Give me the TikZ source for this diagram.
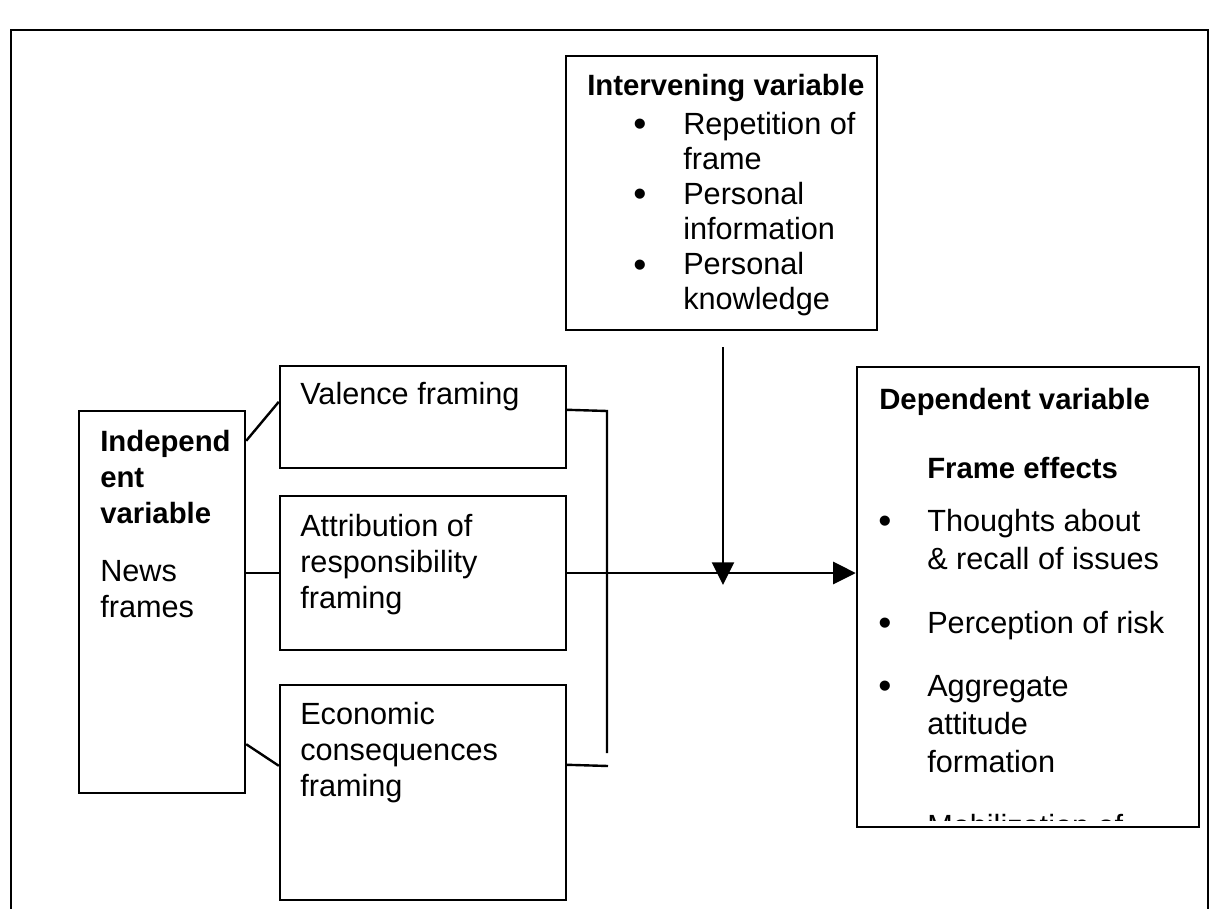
\documentclass[tikz,border=0pt]{standalone}
\usepackage{fontspec}
\setmainfont{Liberation Sans}
\usetikzlibrary{arrows.meta, positioning, fit, calc}

\tikzset{
    box/.style={draw, line width=1.8pt, inner sep=0pt},
    txt/.style={anchor=base west, inner sep=0pt, font=\fontsize{23}{26}\selectfont},
    head/.style={anchor=base west, inner sep=0pt, font=\fontsize{22}{26}\selectfont\bfseries},
    bul/.style={anchor=base, inner sep=0pt, yshift=-1.5pt, font=\fontsize{28}{30}\selectfont},
    link/.style={line width=1.8pt},
    flow/.style={line width=1.8pt, -{Triangle[length=17pt, width=16.5pt]}}
}

\begin{document}
\begin{tikzpicture}[x=0.75pt, y=-0.75pt]
    \useasboundingbox (0,0) rectangle (1210,909);

    % Outer frame
    \draw[line width=1.5pt] (11,909) -- (11,30) -- (1208,30) -- (1208,909);

    % Boxes
    \node[box, fit={(79,411) (245,793)}] (indep) {};
    \node[box, fit={(280,366) (566,468)}] (val) {};
    \node[box, fit={(280,496) (566,650)}] (attr) {};
    \node[box, fit={(280,685) (566,900)}] (econ) {};
    \node[box, fit={(566,56) (877,330)}] (interv) {};
    \node[box, fit={(857,367) (1199,827)}] (dep) {};

    % Independent variable
    \foreach \t [count=\i] in {Independ, ent, variable}
        \node[head] (indep\i) at (100,415+36*\i) {\t};
    \node[txt] (news1) at (100,581) {News};
    \node[txt] (news2) at (100,617) {frames};

    % Framing boxes
    \node[txt] (valtxt) at (300,404) {Valence framing};
    \foreach \t [count=\i] in {Attribution of, responsibility, framing}
        \node[txt] (attr\i) at (300,500+36*\i) {\t};
    \foreach \t [count=\i] in {Economic, consequences, framing}
        \node[txt] (econ\i) at (300,688+36*\i) {\t};

    % Intervening variable
    \node[head] (ivtitle) at (587,96) {Intervening variable};
    \foreach \t [count=\i] in {Repetition of, frame, Personal, information, Personal, knowledge}
        \node[txt] (iv\i) at (683,100+35*\i) {\t};
    \foreach \y [count=\i] in {135,205,275}
        \node[bul] (ivb\i) at (640,\y) {\textbullet};

    % Dependent variable
    \node[head] (deptitle) at (879,409) {Dependent variable};
    \node[head] (depsub) at (927,478) {Frame effects};
    \node[txt] (dep1) at (927,531) {Thoughts about};
    \node[txt] (dep2) at (927,569) {\& recall of issues};
    \node[txt] (dep3) at (927,633) {Perception of risk};
    \node[txt] (dep4) at (927,696) {Aggregate};
    \node[txt] (dep5) at (927,734) {attitude};
    \node[txt] (dep6) at (927,772) {formation};
    \foreach \y [count=\i] in {531,633,696}
        \node[bul] (depb\i) at (885,\y) {\textbullet};
    \begin{scope}
        \clip (dep.north west) rectangle ($(dep.south east)+(0,-8)$);
        \node[txt] (dep7) at (927,836) {Mobilization of};
    \end{scope}

    % Connectors
    \coordinate (bustop) at (607,411);
    \coordinate (busend) at (607,753);
    \coordinate (econend) at (608,766);
    \coordinate (ivstart) at (723,347);
    \coordinate (ivend) at (723,585);

    \draw[link] ($(indep.north east)+(0,31)$) -- ($(val.north west)+(0,37)$);
    \draw[link] (attr.west -| indep.east) -- (attr.west);
    \draw[link] ($(indep.south east)+(0,-50)$) -- ($(econ.north west)+(0,82)$);
    \draw[link] ($(val.north east)+(0,45)$) -- (bustop) -- (busend);
    \draw[link] ($(econ.north east)+(0,81)$) -- (econend);
    \draw[flow] (attr.east) -- (attr.east -| dep.west);
    \draw[flow] (ivstart) -- (ivend);
\end{tikzpicture}
\end{document}
